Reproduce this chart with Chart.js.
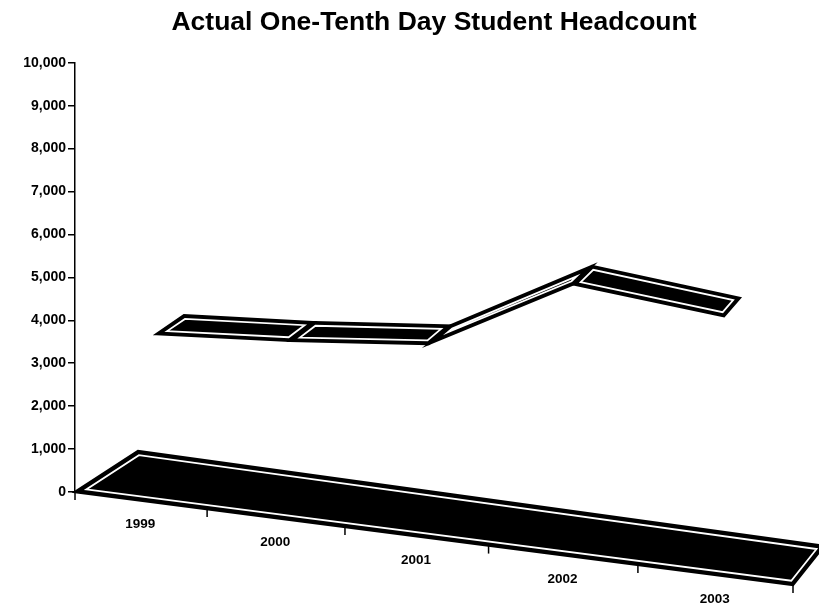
<!DOCTYPE html>
<html>
<head>
<meta charset="utf-8">
<title>Actual One-Tenth Day Student Headcount</title>
<script src="https://cdn.jsdelivr.net/npm/chart.js@4.4.0/dist/chart.umd.min.js"></script>
<style>
  html, body { margin: 0; padding: 0; background: #fff; }
  #wrap { width: 819px; height: 606px; }
</style>
</head>
<body>
<div id="wrap"><canvas id="headcountChart" width="819" height="606"></canvas></div>
<script>
var years = ['1999', '2000', '2001', '2002', '2003'];
var headcount = [3580, 3750, 4010, 5640, 5280];
var yMin = 0;
var yMax = 10000;
var yStep = 1000;

var FONT = '"Liberation Sans", Arial, Helvetica, sans-serif';

// Fake 3D view: floor tilted down to the right, slight perspective, depth going up-right
var view3d = {
    shear: 93 / 718,
    bend: 0.1,
    depthLeft: [63, -41],
    depthRight: [31, -39],
    ribbonFront: 0.27,
    ribbonBack: 0.73
};

function project(chart, px, py, d) {
    var a = chart.chartArea;
    var y0 = chart.scales.y.getPixelForValue(0);
    var w = a.right - a.left;
    var u = (px - a.left) / w;
    var b = view3d.bend;
    var xw = a.left + w * (u - b * u * (1 - u));
    var f = Math.sqrt((1 - b + 2 * b * u) / (1 - b));
    var dx = view3d.depthLeft[0] + (view3d.depthRight[0] - view3d.depthLeft[0]) * u;
    var dy = view3d.depthLeft[1] + (view3d.depthRight[1] - view3d.depthLeft[1]) * u;
    return {
        x: xw + dx * d,
        y: y0 + view3d.shear * (xw - a.left) - (y0 - py) * f + dy * d
    };
}

// shrink a convex polygon by gap px (clamped for thin plates)
function inset(pts, gap) {
    var n = pts.length, cx = 0, cy = 0, i, j;
    for (i = 0; i < n; i++) { cx += pts[i].x; cy += pts[i].y; }
    cx /= n; cy /= n;
    var thin = Infinity;
    for (i = 0; i < n; i++) {
        var a = pts[i], b = pts[(i + 1) % n];
        var ex = b.x - a.x, ey = b.y - a.y, len = Math.hypot(ex, ey);
        var far = 0;
        for (j = 0; j < n; j++) {
            far = Math.max(far, Math.abs((pts[j].x - a.x) * ey - (pts[j].y - a.y) * ex) / len);
        }
        thin = Math.min(thin, far);
    }
    gap = Math.min(gap, thin / 2);
    var lines = [];
    for (i = 0; i < n; i++) {
        var p = pts[i], q = pts[(i + 1) % n];
        var rx = q.x - p.x, ry = q.y - p.y, l = Math.hypot(rx, ry);
        var nx = -ry / l, ny = rx / l;
        if (nx * (cx - p.x) + ny * (cy - p.y) < 0) { nx = -nx; ny = -ny; }
        lines.push({ x: p.x + nx * gap, y: p.y + ny * gap, rx: rx, ry: ry });
    }
    var out = [];
    for (i = 0; i < n; i++) {
        var L1 = lines[(i + n - 1) % n], L2 = lines[i];
        var den = L1.rx * L2.ry - L1.ry * L2.rx;
        var t = ((L2.x - L1.x) * L2.ry - (L2.y - L1.y) * L2.rx) / den;
        out.push({ x: L1.x + L1.rx * t, y: L1.y + L1.ry * t });
    }
    return out;
}

function tracePath(ctx, pts) {
    ctx.beginPath();
    ctx.moveTo(pts[0].x, pts[0].y);
    for (var i = 1; i < pts.length; i++) ctx.lineTo(pts[i].x, pts[i].y);
    ctx.closePath();
}

function drawPlate(ctx, pts, gap) {
    tracePath(ctx, pts);
    ctx.fillStyle = '#000';
    ctx.fill();
    ctx.lineWidth = 2.5;
    ctx.strokeStyle = '#000';
    ctx.stroke();
    tracePath(ctx, inset(pts, gap));
    ctx.lineWidth = 1.8;
    ctx.strokeStyle = '#fff';
    ctx.stroke();
}

var ribbon3d = {
    id: 'ribbon3d',
    afterDatasetsDraw: function(chart) {
        var ctx = chart.ctx;
        var a = chart.chartArea;
        var xs = chart.scales.x;
        var y0 = chart.scales.y.getPixelForValue(0);
        var fr = view3d.ribbonFront, bk = view3d.ribbonBack;
        ctx.save();
        ctx.lineJoin = 'miter';

        // floor
        drawPlate(ctx, [
            project(chart, a.left, y0, 0),
            project(chart, a.right, y0, 0),
            project(chart, a.right, y0, 1),
            project(chart, a.left, y0, 1)
        ], 4);

        // ribbon, one plate per segment
        var pts = chart.getDatasetMeta(0).data;
        for (var i = 0; i < pts.length - 1; i++) {
            var p = pts[i], q = pts[i + 1];
            drawPlate(ctx, [
                project(chart, p.x, p.y, fr),
                project(chart, q.x, q.y, fr),
                project(chart, q.x, q.y, bk),
                project(chart, p.x, p.y, bk)
            ], 3.5);
        }

        // category ticks and labels along the front edge
        ctx.strokeStyle = '#000';
        ctx.lineWidth = 1.5;
        for (var k = 0; k <= years.length; k++) {
            var t = project(chart, xs.getPixelForValue(k - 0.5), y0, 0);
            ctx.beginPath();
            ctx.moveTo(t.x, t.y);
            ctx.lineTo(t.x, t.y + 8);
            ctx.stroke();
        }
        ctx.fillStyle = '#000';
        ctx.font = 'bold 13.5px ' + FONT;
        ctx.textAlign = 'center';
        ctx.textBaseline = 'middle';
        years.forEach(function(label, i) {
            var c = project(chart, xs.getPixelForValue(i), y0, 0);
            ctx.fillText(label, c.x, c.y + 24);
        });
        ctx.restore();
    }
};

new Chart(document.getElementById('headcountChart'), {
    type: 'line',
    data: {
        labels: years,
        datasets: [{
            label: 'Headcount',
            data: headcount,
            borderColor: 'rgba(0,0,0,0)',
            borderWidth: 0,
            pointRadius: 0,
            showLine: false
        }]
    },
    options: {
        responsive: false,
        animation: false,
        devicePixelRatio: 1,
        layout: { padding: { left: 0, right: 26, top: 0, bottom: 114 } },
        plugins: {
            legend: { display: false },
            tooltip: { enabled: false },
            title: {
                display: true,
                fullSize: false,
                text: 'Actual One-Tenth Day Student Headcount',
                color: '#000',
                font: { family: FONT, size: 26.5, weight: 'bold' },
                padding: { top: 7, bottom: 24 }
            }
        },
        scales: {
            x: { display: false, offset: true },
            y: {
                min: yMin,
                max: yMax,
                afterFit: function(scale) { scale.width = 75; },
                ticks: {
                    stepSize: yStep,
                    color: '#000',
                    padding: 2,
                    font: { family: FONT, size: 14, weight: 'bold' },
                    callback: function(v) { return v.toLocaleString('en-US'); }
                },
                grid: { drawOnChartArea: false, drawTicks: true, tickLength: 7, color: '#000', lineWidth: 1.5 },
                border: { display: true, color: '#000', width: 1.5 }
            }
        }
    },
    plugins: [ribbon3d]
});
</script>
</body>
</html>
